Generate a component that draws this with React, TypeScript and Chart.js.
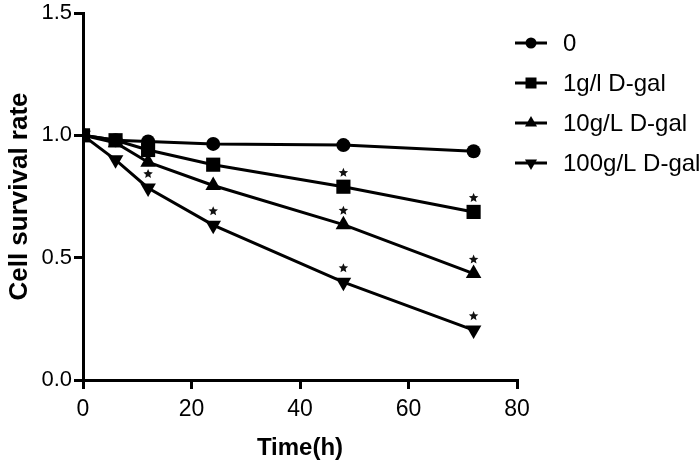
import React, { useEffect, useRef } from "react";
import { Chart, registerables } from "chart.js";

Chart.register(...registerables);

const timePoints = [0, 6, 12, 24, 48, 72];
const seriesLabels = ["0", "1g/l D-gal", "10g/L D-gal", "100g/L D-gal"];
const control = [1.0, 0.98, 0.975, 0.965, 0.96, 0.935];
const dgal1 = [1.0, 0.98, 0.94, 0.88, 0.79, 0.687];
const dgal10 = [1.0, 0.97, 0.89, 0.795, 0.635, 0.435];
const dgal100 = [1.0, 0.9, 0.785, 0.633, 0.4, 0.204];
// significance markers (asterisk) per series, per time point
const sig0 = [false, false, false, false, false, false];
const sig1 = [false, false, false, false, true, true];
const sig10 = [false, false, false, false, true, true];
const sig100 = [false, false, true, true, true, true];
const yTicks = [0, 0.5, 1.0, 1.5];
const xTicks = [0, 20, 40, 60, 80];

const FONT = "'Liberation Sans', Arial, sans-serif";

const styles = [
  { pointStyle: "circle", rotation: 0, radius: 7 },
  { pointStyle: "rect", rotation: 0, radius: 10 },
  { pointStyle: "triangle", rotation: 0, radius: 9 },
  { pointStyle: "triangle", rotation: 180, radius: 9 },
];

function drawMarker(ctx: any, style: string, rot: number, r: number, x: number, y: number) {
  ctx.save();
  ctx.translate(x, y);
  ctx.rotate((rot * Math.PI) / 180);
  ctx.beginPath();
  if (style === "circle") {
    ctx.arc(0, 0, r, 0, Math.PI * 2);
  } else if (style === "rect") {
    const s = r * 2;
    ctx.rect(-s / 2, -s / 2, s, s);
  } else {
    ctx.moveTo(0, -r);
    ctx.lineTo(r * 0.866, r * 0.5);
    ctx.lineTo(-r * 0.866, r * 0.5);
    ctx.closePath();
  }
  ctx.fill();
  ctx.restore();
}

function drawStar(ctx: any, x: number, y: number, R: number) {
  const r = R * 0.45;
  ctx.beginPath();
  for (let k = 0; k < 10; k++) {
    const a = -Math.PI / 2 + (k * Math.PI) / 5;
    const rr = k % 2 === 0 ? R : r;
    const px = x + Math.cos(a) * rr;
    const py = y + Math.sin(a) * rr;
    if (k === 0) ctx.moveTo(px, py);
    else ctx.lineTo(px, py);
  }
  ctx.closePath();
  ctx.fill();
}

export default function App() {
  const ref = useRef<HTMLCanvasElement | null>(null);

  useEffect(() => {
    document.body.style.margin = "0";
    const canvas = ref.current;
    if (!canvas) return;
    const allSeries = [control, dgal1, dgal10, dgal100];
    const allSig = [sig0, sig1, sig10, sig100];

    const starPlugin = {
      id: "stars",
      afterDatasetsDraw(chart: any) {
        const ctx = chart.ctx;
        ctx.save();
        ctx.fillStyle = "#111";
        allSig.forEach((sig, di) => {
          const meta = chart.getDatasetMeta(di);
          sig.forEach((s, i) => {
            if (!s) return;
            const el = meta.data[i];
            drawStar(ctx, el.x, el.y - 14, 5);
          });
        });
        ctx.restore();
      },
    };

    const legendPlugin = {
      id: "customLegend",
      afterDraw(chart: any) {
        const ctx = chart.ctx;
        ctx.save();
        const ys = [43, 83, 123, 163];
        const legR = [5.5, 5.5, 7, 7];
        seriesLabels.forEach((lab, i) => {
          const y = ys[i];
          ctx.strokeStyle = "#000";
          ctx.lineWidth = 3;
          ctx.beginPath();
          ctx.moveTo(515, y);
          ctx.lineTo(547, y);
          ctx.stroke();
          ctx.fillStyle = "#000";
          const st = styles[i];
          drawMarker(ctx, st.pointStyle, st.rotation, legR[i], 531, y);
          ctx.fillStyle = "#000";
          ctx.font = `24px ${FONT}`;
          ctx.textAlign = "left";
          ctx.textBaseline = "middle";
          ctx.fillText(lab, 563, y + 1);
        });
        ctx.restore();
      },
    };

    const chart = new Chart(canvas, {
      type: "line",
      data: {
        datasets: allSeries.map((vals, i) => ({
          label: seriesLabels[i],
          data: vals.map((v, j) => ({ x: timePoints[j], y: v })),
          borderColor: "#000",
          backgroundColor: "#000",
          borderWidth: 3,
          pointStyle: styles[i].pointStyle as any,
          rotation: styles[i].rotation,
          pointRadius: styles[i].radius,
          pointBorderWidth: 0,
          tension: 0,
        })),
      },
      options: {
        animation: false,
        responsive: false,
        layout: { padding: { top: 13, right: 182, left: 0, bottom: 0 } },
        plugins: {
          legend: { display: false },
          tooltip: { enabled: false },
        },
        scales: {
          x: {
            type: "linear",
            min: 0,
            max: 80,
            afterBuildTicks: (s: any) => {
              s.ticks = xTicks.map((v) => ({ value: v }));
            },
            afterFit: (s: any) => {
              s.height = 87;
            },
            grid: {
              drawOnChartArea: false,
              drawTicks: true,
              tickLength: 9,
              color: "#000",
              lineWidth: 3,
            },
            border: { display: true, color: "#000", width: 3 },
            ticks: {
              color: "#000",
              font: { family: FONT, size: 23 },
              padding: 7,
              maxRotation: 0,
            },
            title: {
              display: true,
              text: "Time(h)",
              color: "#000",
              font: { family: FONT, size: 24, weight: "bold" },
              padding: { top: 0 },
            },
          },
          y: {
            min: 0,
            max: 1.5,
            afterBuildTicks: (s: any) => {
              s.ticks = yTicks.map((v) => ({ value: v }));
            },
            afterFit: (s: any) => {
              s.width = 83;
            },
            grid: {
              drawOnChartArea: false,
              drawTicks: true,
              tickLength: 9,
              color: "#000",
              lineWidth: 3,
            },
            border: { display: true, color: "#000", width: 3 },
            ticks: {
              color: "#000",
              font: { family: FONT, size: 22, lineHeight: 1 },
              padding: 2,
              callback: (v: any) => Number(v).toFixed(1),
            },
            title: {
              display: true,
              text: "Cell survival rate",
              color: "#000",
              font: { family: FONT, size: 26, weight: "bold" },
              padding: { bottom: 2 },
            },
          },
        },
      },
      plugins: [starPlugin, legendPlugin],
    });
    return () => chart.destroy();
  }, []);

  return (
    <div style={{ width: 699, height: 467 }}>
      <canvas ref={ref} width={699} height={467} style={{ width: 699, height: 467, display: "block" }} />
    </div>
  );
}
